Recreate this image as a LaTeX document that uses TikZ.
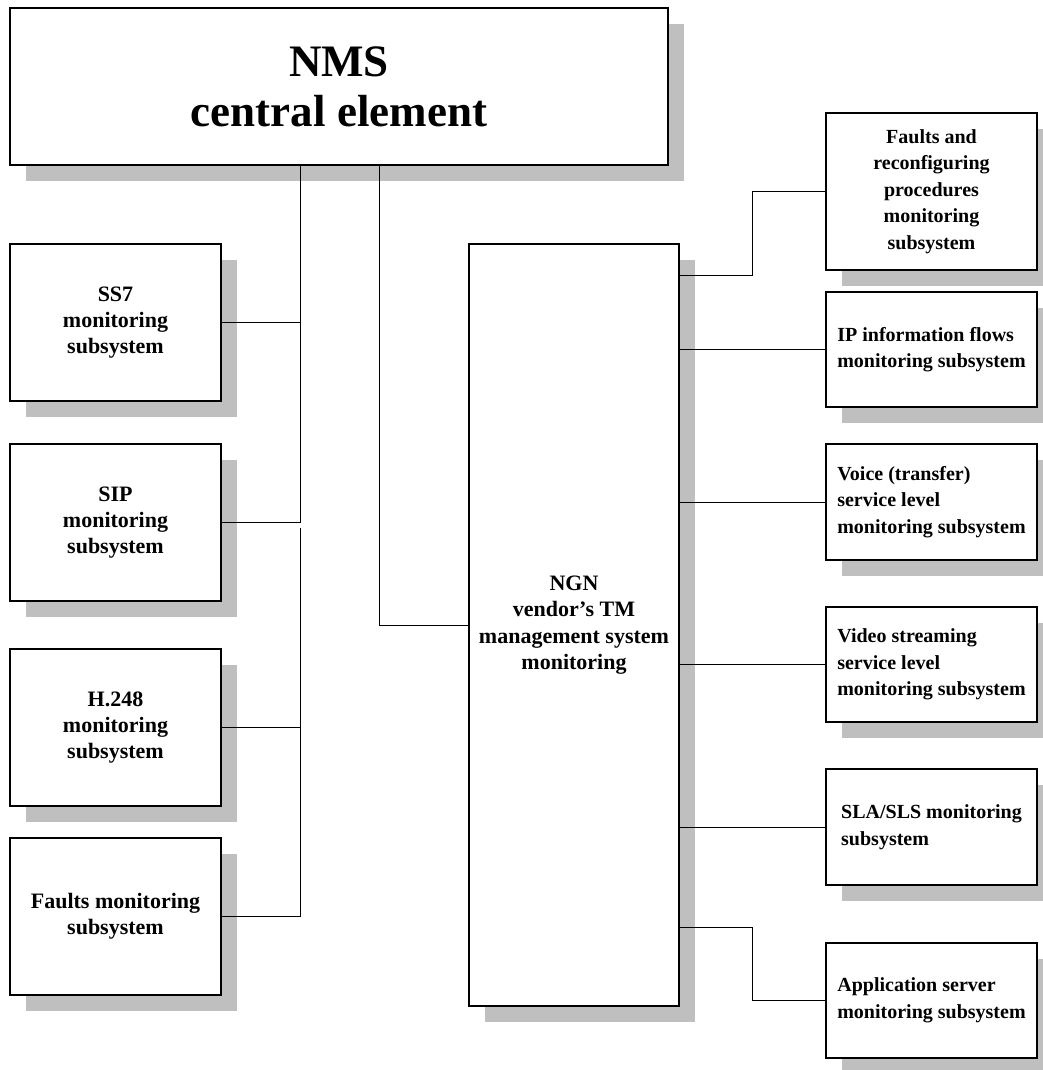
\documentclass[tikz,border=0pt]{standalone}
\usepackage{fontspec}
\setmainfont{Liberation Serif}
\usetikzlibrary{positioning,shadows}

\begin{document}
\begin{tikzpicture}[x=1pt,y=-1pt,
box/.style={draw,line width=1.2pt,fill=white,inner sep=0pt,align=center,
  drop shadow={shadow xshift=16pt,shadow yshift=-16pt,fill=black!25,opacity=1}},
subl/.style={box,minimum width=211pt,minimum height=157pt,
  font=\bfseries\fontsize{22}{26}\selectfont},
subr/.style={box,minimum width=211pt,align=left,
  font=\bfseries\fontsize{20}{26.5}\selectfont},
link/.style={line width=.8pt}]
\useasboundingbox (0,0) rectangle (1043,1070);
\node[box,minimum width=658pt,minimum height=157pt,
  font=\bfseries\fontsize{45}{50}\selectfont] (NMS) at (339,86.5) {NMS\\central element};
\node[subl] (SS7) at (115.5,322.5) {SS7\\monitoring\\subsystem};
\node[subl] (SIP) at (115.5,522.5) {SIP\\monitoring\\subsystem};
\node[subl] (H248) at (115.5,727.5) {H.248\\monitoring\\subsystem};
\node[subl] (FLT) at (115.5,916.5) {Faults monitoring\\subsystem};
\node[box,minimum width=210pt,minimum height=762pt,
  font=\bfseries\fontsize{22}{26.5}\selectfont] (NGN) at (574,625)
  {NGN\\vendor’s TM\\management system\\monitoring};
\node[subr,align=center,minimum height=157pt] (FR) at (931.5,191.5)
  {Faults and\\reconfiguring\\procedures\\monitoring\\subsystem};
\node[subr,minimum height=115pt] (IP) at (931.5,349.5) {IP information flows\\monitoring subsystem};
\node[subr,minimum height=116pt] (VO) at (931.5,502) {Voice (transfer)\\service level\\monitoring subsystem};
\node[subr,minimum height=115pt] (VS) at (931.5,664.5) {Video streaming\\service level\\monitoring subsystem};
\node[subr,minimum height=116pt] (SLA) at (931.5,827) {SLA/SLS monitoring\\subsystem};
\node[subr,minimum height=115pt] (AS) at (931.5,1000.5) {Application server\\monitoring subsystem};
% bus points
\coordinate (busL) at (300,0);
\coordinate (busM) at (379,0);
\coordinate (gapL) at (300,528);
\coordinate (jogFR) at (752,275);
\coordinate (jogAS) at (752,927);
% left side
\draw[link] (NMS.south -| busL) |- (SIP.east);
\draw[link] (SS7.east) -- (SS7.east -| busL);
\draw[link] (gapL) |- (FLT.east);
\draw[link] (H248.east) -- (H248.east -| busL);
\draw[link] (NMS.south -| busM) |- (NGN.west);
% right side
\draw[link] (NGN.east |- jogFR) -- (jogFR) |- (FR.west);
\draw[link] (NGN.east |- IP.west) -- (IP.west);
\draw[link] (NGN.east |- VO.west) -- (VO.west);
\draw[link] (NGN.east |- VS.west) -- (VS.west);
\draw[link] (NGN.east |- SLA.west) -- (SLA.west);
\draw[link] (NGN.east |- jogAS) -- (jogAS) |- (AS.west);
\end{tikzpicture}
\end{document}
